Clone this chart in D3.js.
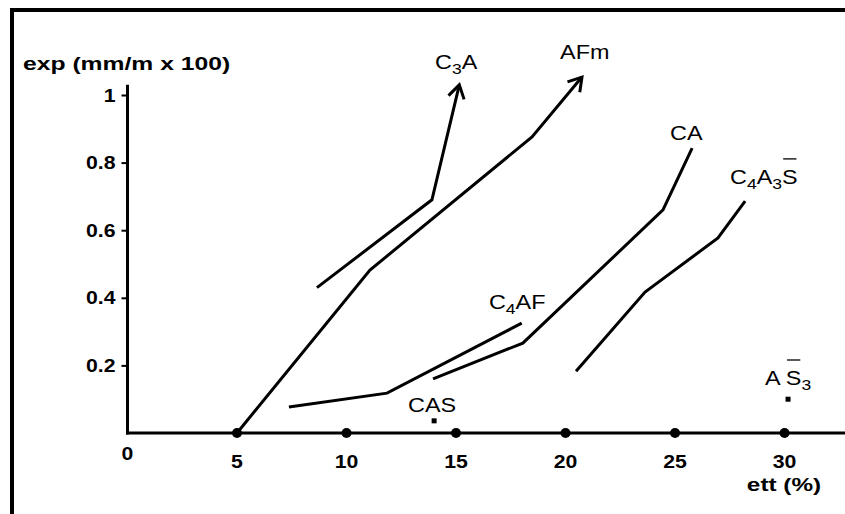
<!DOCTYPE html>
<html>
<head>
<meta charset="utf-8">
<script src="https://cdn.jsdelivr.net/npm/d3@7/dist/d3.min.js"></script>
<style>
  html, body { margin: 0; padding: 0; background: #fff; }
  svg { display: block; }
  text { font-family: "Liberation Sans", Arial, sans-serif; fill: #000; }
</style>
</head>
<body>
<svg id="chart" width="845" height="514"></svg>
<script>
// ---------------- data ----------------
const xTicks = [0, 5, 10, 15, 20, 25, 30];
const xDotTicks = [5, 10, 15, 20, 25, 30];
const yTicks = [0.2, 0.4, 0.6, 0.8, 1];
const xAxisTitle = "ett (%)";
const yAxisTitle = "exp (mm/m x 100)";

const seriesNames = ["C3A", "AFm", "C4AF", "CA", "C4A3S"];
const seriesArrow = [true, true, false, false, false];
const c3aX = [8.65, 13.9, 15.15];
const c3aY = [0.43, 0.69, 1.03];
const afmX = [5, 11.07, 18.47, 20.75];
const afmY = [0, 0.482, 0.876, 1.053];
const c4afX = [7.37, 11.85, 18.0];
const c4afY = [0.077, 0.118, 0.325];
const caX = [13.95, 18.05, 24.45, 25.78];
const caY = [0.16, 0.266, 0.66, 0.843];
const c4a3sX = [20.48, 23.63, 26.96, 28.2];
const c4a3sY = [0.183, 0.417, 0.577, 0.686];

const pointNames = ["CAS", "AS3"];
const pointX = [14.0, 30.16];
const pointY = [0.036, 0.10];

// label anchors (left / baseline), data coordinates
const labelX = [14.04, 19.75, 16.5, 24.77, 27.51, 12.81, 29.11];
const labelY = [1.077, 1.107, 0.367, 0.867, 0.737, 0.062, 0.142];
const labelParts = [
  [{t:"C"},{t:"3",sub:true},{t:"A"}],
  [{t:"AFm"}],
  [{t:"C"},{t:"4",sub:true},{t:"AF"}],
  [{t:"CA"}],
  [{t:"C"},{t:"4",sub:true},{t:"A"},{t:"3",sub:true},{t:"S",bar:true}],
  [{t:"CAS"}],
  [{t:"A "},{t:"S",bar:true},{t:"3",sub:true}]
];

// ---------------- drawing ----------------
const svg = d3.select("#chart");
const x = d3.scaleLinear().domain([0, 32.76]).range([127.5, 845]);
const y = d3.scaleLinear().domain([0, 1]).range([433, 95]);
const SX = 1.18;

// frame (top + left)
svg.append("line").attr("x1", 10).attr("x2", 845).attr("y1", 10).attr("y2", 10)
  .attr("stroke", "#000").attr("stroke-width", 4);
svg.append("line").attr("x1", 12).attr("x2", 12).attr("y1", 8).attr("y2", 514)
  .attr("stroke", "#000").attr("stroke-width", 4);

// arrow marker
const defs = svg.append("defs");
defs.append("marker").attr("id", "arrow")
  .attr("markerUnits", "userSpaceOnUse")
  .attr("viewBox", "-18 -12 24 24")
  .attr("markerWidth", 24).attr("markerHeight", 24)
  .attr("refX", 0).attr("refY", 0)
  .attr("orient", "auto")
  .append("path").attr("d", "M-13,-8 L0,0 L-13,8")
  .attr("fill", "none").attr("stroke", "#000").attr("stroke-width", 3)
  .attr("stroke-linejoin", "miter");

// y axis
const yAx = svg.append("g").attr("transform", `translate(${x(0)},0)`)
  .call(d3.axisLeft(y).tickValues(yTicks).tickSize(6).tickFormat(d => String(d)));
yAx.select(".domain").remove();
yAx.selectAll(".tick line").attr("stroke", "#000").attr("stroke-width", 2);
yAx.selectAll(".tick text")
  .attr("x", null).attr("dy", null)
  .attr("transform", `translate(-12,6) scale(${SX},1)`)
  .attr("text-anchor", "end")
  .style("font-family", "'Liberation Sans', Arial, sans-serif")
  .style("font-size", "18px").style("font-weight", "bold").attr("fill", "#000");
svg.append("line").attr("x1", x(0)).attr("x2", x(0))
  .attr("y1", y(0) + 1.5).attr("y2", y(1.03))
  .attr("stroke", "#000").attr("stroke-width", 3);

// x axis
svg.append("line").attr("x1", x(0) - 1.5).attr("x2", 845)
  .attr("y1", y(0)).attr("y2", y(0))
  .attr("stroke", "#000").attr("stroke-width", 3);
svg.selectAll(".xdot").data(xDotTicks).enter().append("circle")
  .attr("cx", d => x(d)).attr("cy", y(0)).attr("r", 5).attr("fill", "#000");
svg.selectAll(".xlab").data(xTicks).enter().append("text")
  .attr("transform", d => `translate(${x(d)},${d === 0 ? 460 : 468}) scale(${SX},1)`)
  .attr("text-anchor", "middle")
  .style("font-size", "18px").style("font-weight", "bold")
  .text(d => d);

// axis titles
svg.append("text").attr("transform", `translate(23,70) scale(1.3,1)`)
  .style("font-size", "19px").style("font-weight", "bold").text(yAxisTitle);
svg.append("text").attr("transform", `translate(784,491) scale(1.28,1)`)
  .attr("text-anchor", "middle")
  .style("font-size", "19px").style("font-weight", "bold").text(xAxisTitle);

// series lines
const seriesX = [c3aX, afmX, c4afX, caX, c4a3sX];
const seriesY = [c3aY, afmY, c4afY, caY, c4a3sY];
const lineGen = d3.line().x(d => x(d[0])).y(d => y(d[1]));
seriesNames.forEach((name, i) => {
  const pts = seriesX[i].map((v, j) => [v, seriesY[i][j]]);
  svg.append("path").datum(pts)
    .attr("d", lineGen)
    .attr("fill", "none").attr("stroke", "#000").attr("stroke-width", 3)
    .attr("stroke-linejoin", "miter")
    .attr("marker-end", seriesArrow[i] ? "url(#arrow)" : null);
});

// single points
svg.selectAll(".pt").data(pointNames).enter().append("rect")
  .attr("x", (d, i) => x(pointX[i]) - 2.5)
  .attr("y", (d, i) => y(pointY[i]) - 2.5)
  .attr("width", 5).attr("height", 5).attr("fill", "#000");

// labels
labelParts.forEach((parts, i) => {
  const g = svg.append("g")
    .attr("transform", `translate(${x(labelX[i])},${y(labelY[i])}) scale(1.17,1)`);
  const t = g.append("text").style("font-size", "20px");
  let shift = 0;
  const bars = [];
  let idx = 0;
  parts.forEach(p => {
    const ts = t.append("tspan").text(p.t);
    if (p.sub) {
      ts.style("font-size", "15px").attr("dy", 5 - shift);
      shift = 5;
    } else {
      if (shift !== 0) { ts.attr("dy", -shift); shift = 0; }
    }
    if (p.bar) bars.push([idx, idx + p.t.length - 1]);
    idx += p.t.length;
  });
  const node = t.node();
  bars.forEach(b => {
    const s = node.getStartPositionOfChar(b[0]).x;
    const e = node.getEndPositionOfChar(b[1]).x;
    g.append("line").attr("x1", s + 1).attr("x2", e - 1)
      .attr("y1", -25).attr("y2", -25)
      .attr("stroke", "#000").attr("stroke-width", 1.3);
  });
});
</script>
</body>
</html>
